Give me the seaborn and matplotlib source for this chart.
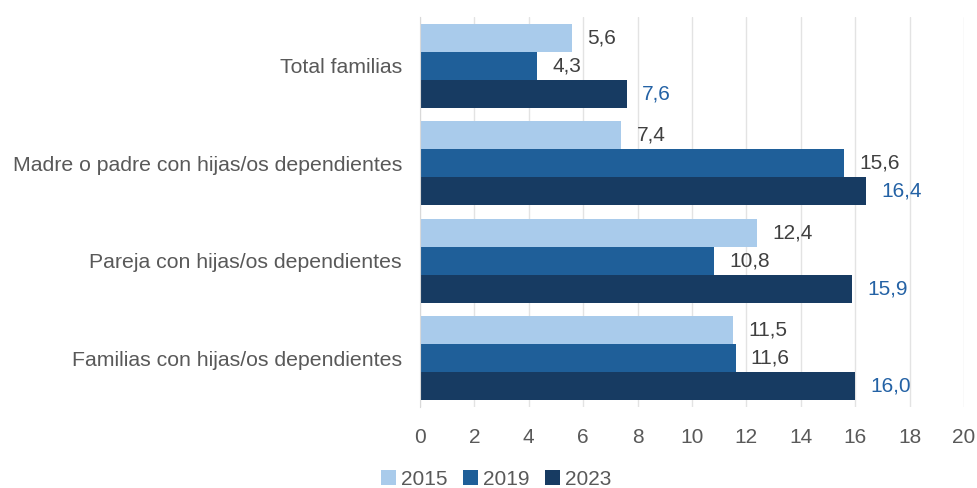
import pandas as pd
import seaborn as sns
import matplotlib.pyplot as plt

categorias = ['Total familias',
              'Madre o padre con hijas/os dependientes',
              'Pareja con hijas/os dependientes',
              'Familias con hijas/os dependientes']
anios = ['2015', '2019', '2023']
v2015 = [5.6, 7.4, 12.4, 11.5]
v2019 = [4.3, 15.6, 10.8, 11.6]
v2023 = [7.6, 16.4, 15.9, 16.0]

colores = ['#A9CBEB', '#1F5F99', '#173B62']
color_etiq = ['#404040', '#404040', '#2462A5']

df = pd.DataFrame({
    'categoria': categorias * 3,
    'anio': [a for a in anios for _ in categorias],
    'valor': v2015 + v2019 + v2023,
})

sns.set_style('white')
plt.rcParams['font.family'] = ['Liberation Sans', 'DejaVu Sans']

fig = plt.figure(figsize=(9.78, 4.88), dpi=100)
ax = fig.add_axes([0.4294, 0.166, 0.5563, 0.799])

sns.barplot(data=df, y='categoria', x='valor', hue='anio', order=categorias,
            hue_order=anios, palette=colores, orient='h', width=0.86, gap=0,
            saturation=1, linewidth=0, ax=ax)

for cont, c in zip(ax.containers, color_etiq):
    etiqs = [f'{b.get_width():.1f}'.replace('.', ',') for b in cont]
    ax.bar_label(cont, labels=etiqs, padding=11, color=c, fontsize=15)

ax.set_xlim(0, 20)
ax.set_xticks(range(0, 21, 2))
ax.grid(axis='x', color='#E3E3E3', linewidth=1)
ax.set_axisbelow(True)
ax.set_xlabel('')
ax.set_ylabel('')
ax.tick_params(axis='x', labelsize=15, colors='#595959', length=0, pad=15)
ax.tick_params(axis='y', labelsize=15.3, colors='#595959', length=0, pad=13)
for s in ['top', 'right', 'bottom']:
    ax.spines[s].set_visible(False)
ax.spines['left'].set_color('#D9D9D9')

ax.legend(loc='center', bbox_to_anchor=(0.14, -0.186), ncol=3, frameon=False,
          fontsize=15, handlelength=0.7, handleheight=0.7, handletextpad=0.25,
          columnspacing=0.75, labelcolor='#595959')

plt.savefig('out.png', dpi=100)
